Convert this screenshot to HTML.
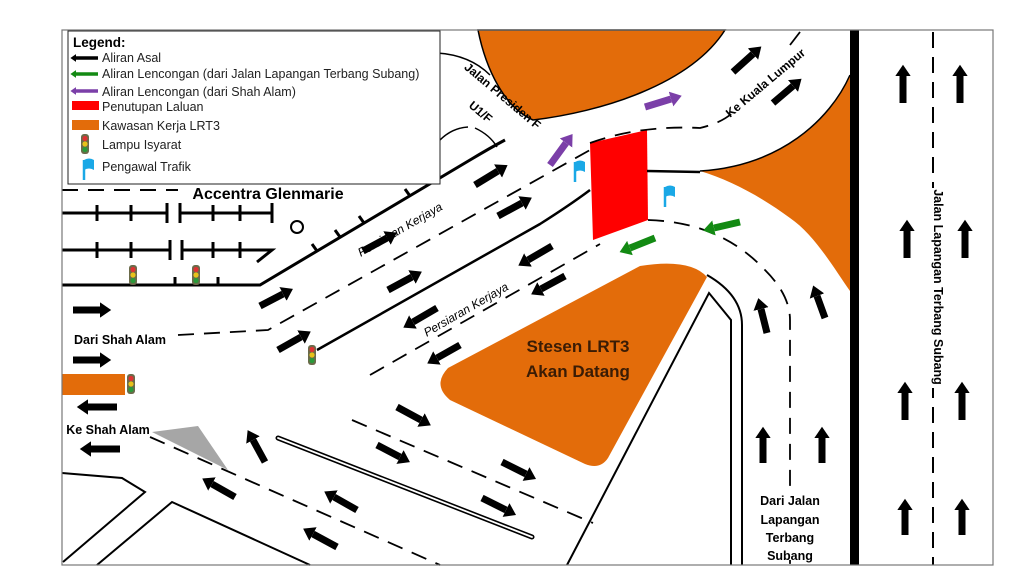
<!DOCTYPE html>
<html><head><meta charset="utf-8"><style>
html,body{margin:0;padding:0;background:#fff;}
svg{display:block;font-family:"Liberation Sans",sans-serif;}
</style></head><body>
<svg width="1024" height="576" viewBox="0 0 1024 576" xmlns="http://www.w3.org/2000/svg">
<defs>
<marker id="h" markerWidth="2.2" markerHeight="2.2" refX="0" refY="1.1" orient="auto" markerUnits="strokeWidth"><path d="M0,0 L1.6,1.1 L0,2.2z" fill="#000"/></marker>
<marker id="hp" markerWidth="2.2" markerHeight="2.2" refX="0" refY="1.1" orient="auto" markerUnits="strokeWidth"><path d="M0,0 L1.6,1.1 L0,2.2z" fill="#7b3fa8"/></marker>
<marker id="hg" markerWidth="2.2" markerHeight="2.2" refX="0" refY="1.1" orient="auto" markerUnits="strokeWidth"><path d="M0,0 L1.6,1.1 L0,2.2z" fill="#138a13"/></marker>
<g id="tl"><rect x="-4" y="-10" width="8" height="20" rx="3" fill="#6b6b4a"/><circle cx="0" cy="-5.5" r="2.6" fill="#d33"/><circle cx="0" cy="0" r="2.6" fill="#e8c21a"/><circle cx="0" cy="5.5" r="2.6" fill="#2a9a3a"/></g>
<g id="fl"><path d="M0,14 L0,-6" stroke="#1aa8e6" stroke-width="2.5"/><path d="M0,-6 Q5,-9 10,-6 L10,4 Q5,1 0,4z" fill="#1aa8e6"/></g>
</defs>
<rect x="0" y="0" width="1024" height="576" fill="#fff"/>
<path d="M478,30 C486,70 505,108 533,120 C600,112 690,85 725,30 Z" fill="#e36c0a" stroke="#000" stroke-width="1.5"/>
<path d="M700,171 C780,166 830,120 850,75 L850,291 C835,270 815,235 790,218 C760,196 730,180 700,171Z" fill="#e36c0a"/>
<path d="M700,171 C780,166 830,120 850,75" fill="none" stroke="#000" stroke-width="1.5"/>
<path d="M448,368 L640,266 Q690,258 707,277 L608,458 Q600,470 585,464 L450,400 Q432,385 448,368Z" fill="#e36c0a"/>
<rect x="62" y="374" width="63" height="21" fill="#e36c0a"/>
<path d="M590,143 L647,130 L648,220 L593,240Z" fill="#f00"/>
<rect x="850" y="30" width="9" height="535" fill="#000"/>
<path d="M933,32 V565" stroke="#000" stroke-width="2" stroke-dasharray="16,9"/>
<rect x="927" y="188" width="18" height="200" fill="#fff"/>
<g fill="none" stroke="#000">
<path d="M62,190 H178" stroke-width="2" stroke-dasharray="16,10"/>
<g stroke-width="3">
<path d="M62,213 H167 M167,203 V223 M97,205 V221 M131,205 V221"/>
<path d="M180,213 H272 M180,203 V223 M272,203 V223 M213,205 V221 M240,205 V221"/>
<path d="M62,250 H170 M170,240 V260 M97,242 V258 M131,242 V258"/>
<path d="M182,250 H272 L257,262 M182,240 V260 M213,242 V258 M240,242 V258"/>
<path d="M62,285 H260 L470,160 Q490,148 505,140 M175,285 V277 M218,285 V277 M317,251 L312,244 M340,237 L335,230 M364,223 L359,216 M410,196 L405,189"/>
</g>
<circle cx="297" cy="227" r="6" stroke-width="2"/>
<path d="M440,140 Q452,128 468,127 M475,128 Q490,135 497,147" stroke-width="1.5"/>
<path d="M437,53 Q470,55 490,75" stroke-width="1.5"/>
<path d="M178,335 L268,330 L590,150" stroke-width="1.8" stroke-dasharray="16,10"/>
<path d="M317,350 L540,224 Q570,205 590,190" stroke-width="2.5"/>
<path d="M647,171 L700,172" stroke-width="2.5"/>
<path d="M370,375 L600,244" stroke-width="1.8" stroke-dasharray="16,10"/>
<path d="M590,143 Q640,125 700,128 Q725,122 735,110" stroke-width="1.8" stroke-dasharray="16,10"/>
<path d="M790,45 L800,32" stroke-width="1.8"/>
<path d="M648,220 Q720,222 765,270 Q790,295 790,320 V565" stroke-width="1.8" stroke-dasharray="16,10"/>
<path d="M707,275 Q742,295 742,325 V565" stroke-width="2"/>
<path d="M567,565 L709,293 L731,320 V565" stroke-width="2"/>
<path d="M150,437 L440,565" stroke-width="1.8" stroke-dasharray="16,10"/>
<path d="M352,420 L593,523" stroke-width="1.8" stroke-dasharray="16,10"/>
<path d="M278,438 L532,537" stroke-width="5" stroke-linecap="round"/>
<path d="M278,438 L532,537" stroke="#fff" stroke-width="1.8" stroke-linecap="round"/>
<path d="M62,473 L122,478 L145,492 L63,562" stroke-width="2"/>
<path d="M97,565 L172,502 L310,565" stroke-width="2"/>
</g>
<rect x="757" y="488" width="66" height="72" fill="#fff"/>
<path d="M152,432 L198,426 L228,470Z" fill="#a6a6a6"/>
<g stroke="#000" stroke-width="7" marker-end="url(#h)" fill="none">
<path d="M733,72 L753,54"/><path d="M773,103 L793,86"/>
<path d="M903,103 V76"/><path d="M960,103 V76"/>
<path d="M907,258 V231"/><path d="M965,258 V231"/>
<path d="M905,420 V393"/><path d="M962,420 V393"/>
<path d="M905,535 V510"/><path d="M962,535 V510"/>
<path d="M763,463 V438"/><path d="M822,463 V438"/>
<path d="M767,333 L761,309"/><path d="M825,318 L817,296"/>
<path d="M363,251 L387,238"/><path d="M475,185 L498,171"/><path d="M260,306 L283,294"/><path d="M388,290 L412,277"/><path d="M498,216 L522,203"/><path d="M278,350 L301,337"/>
<path d="M552,246 L528,260"/><path d="M565,276 L541,289"/><path d="M437,308 L413,322"/><path d="M460,345 L437,358"/>
<path d="M397,407 L421,420"/><path d="M377,445 L400,457"/><path d="M502,462 L526,474"/><path d="M482,498 L506,510"/>
<path d="M265,462 L253,440"/><path d="M235,497 L212,484"/><path d="M357,510 L334,497"/><path d="M337,547 L313,534"/>
<path d="M117,407 L88,407"/><path d="M120,449 L91,449"/><path d="M73,310 L100,310"/><path d="M73,360 L100,360"/>
</g>
<g stroke="#7b3fa8" stroke-width="7" marker-end="url(#hp)"><path d="M550,165 L566,143"/><path d="M645,107 L671,99"/></g>
<g stroke="#138a13" stroke-width="7" marker-end="url(#hg)"><path d="M740,222 L714,228"/><path d="M655,238 L630,248"/></g>
<use href="#tl" x="133" y="275"/><use href="#tl" x="196" y="275"/><use href="#tl" x="312" y="355"/><use href="#tl" x="131" y="384"/>
<use href="#fl" x="575" y="168"/><use href="#fl" x="665" y="193"/>
<g font-weight="bold" fill="#000">
<text x="268" y="199" font-size="16" text-anchor="middle">Accentra Glenmarie</text>
<text x="120" y="344" font-size="12.5" text-anchor="middle">Dari Shah Alam</text>
<text x="108" y="434" font-size="12.5" text-anchor="middle">Ke Shah Alam</text>
<text x="578" y="352" font-size="17" text-anchor="middle" fill="#3a1c05">Stesen LRT3</text>
<text x="578" y="377" font-size="17" text-anchor="middle" fill="#3a1c05">Akan Datang</text>
<g font-size="12.5" text-anchor="middle"><text x="790" y="505">Dari Jalan</text><text x="790" y="524">Lapangan</text><text x="790" y="542">Terbang</text><text x="790" y="560">Subang</text></g>
<text font-size="12.5" transform="translate(934,287) rotate(90)" text-anchor="middle">Jalan Lapangan Terbang Subang</text>
<text font-size="12" transform="translate(768,86) rotate(-40)" text-anchor="middle">Ke Kuala Lumpur</text>
<text font-size="12" transform="translate(500,99) rotate(40)" text-anchor="middle">Jalan Presiden F</text>
<text font-size="12" transform="translate(478,115) rotate(40)" text-anchor="middle">U1/F</text>
</g>
<g font-size="12" font-style="italic" fill="#000">
<text transform="translate(402,233) rotate(-30)" text-anchor="middle">Persiaran Kerjaya</text>
<text transform="translate(468,313) rotate(-30)" text-anchor="middle">Persiaran Kerjaya</text>
</g>
<rect x="68" y="31" width="372" height="153" fill="#fff" stroke="#222" stroke-width="1"/>
<text x="73" y="47" font-size="13.5" font-weight="bold">Legend:</text>
<g stroke-width="3.5">
<path d="M98,58 H76" stroke="#000" marker-end="url(#h)"/>
<path d="M98,74 H76" stroke="#138a13" marker-end="url(#hg)"/>
<path d="M98,91 H76" stroke="#7b3fa8" marker-end="url(#hp)"/>
</g>
<rect x="72" y="101" width="27" height="9" fill="#f00"/>
<rect x="72" y="120" width="27" height="10" fill="#e36c0a"/>
<use href="#tl" x="85" y="144"/>
<use href="#fl" x="84" y="166"/>
<g font-size="12.5" fill="#222">
<text x="102" y="62">Aliran Asal</text>
<text x="102" y="78">Aliran Lencongan (dari Jalan Lapangan Terbang Subang)</text>
<text x="102" y="96">Aliran Lencongan (dari Shah Alam)</text>
<text x="102" y="111">Penutupan Laluan</text>
<text x="102" y="130">Kawasan Kerja LRT3</text>
<text x="102" y="149">Lampu Isyarat</text>
<text x="102" y="171">Pengawal Trafik</text>
</g>
<rect x="62" y="30" width="931" height="535" fill="none" stroke="#777" stroke-width="1.2"/>
</svg>
</body></html>
